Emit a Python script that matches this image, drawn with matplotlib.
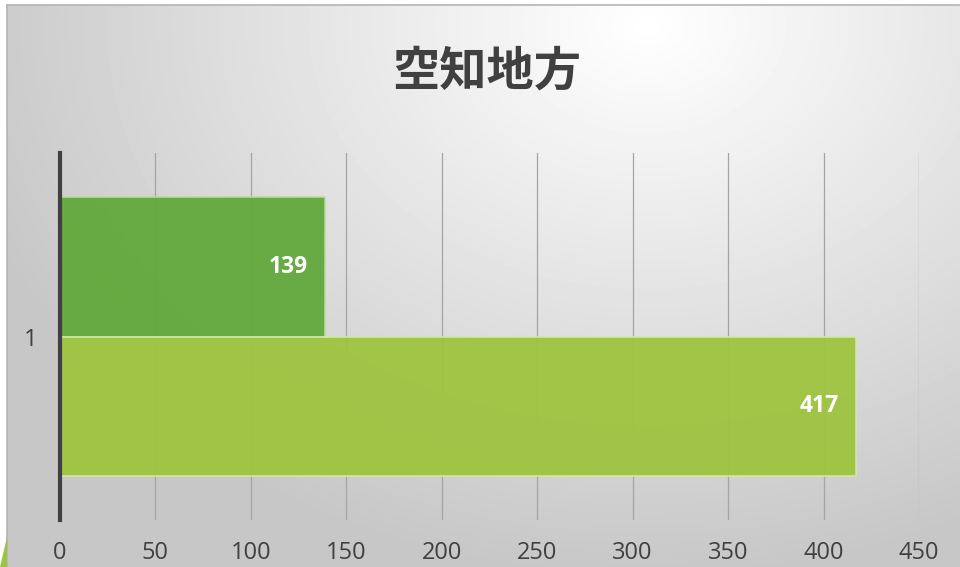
import numpy as np
from matplotlib import pyplot as plt
from matplotlib.patches import Polygon

plt.rcParams['font.family'] = ['Open Sans', 'Noto Sans CJK JP', 'DejaVu Sans']

title = "空知地方"
categories = ["1"]
upper_values = [139]
lower_values = [417]
x_ticks = [0, 50, 100, 150, 200, 250, 300, 350, 400, 450]

fig = plt.figure(figsize=(9.6, 5.67), dpi=100)
fig.patch.set_facecolor("white")

# background with a soft radial gradient
bg = fig.add_axes([7 / 960, 0, 1 - 7 / 960, 1 - 5 / 567], zorder=0)
h, w = 562, 953
yy, xx = np.mgrid[0:h, 0:w]
dist = np.sqrt(((xx - 640) / 900) ** 2 + ((yy - 20) / 700) ** 2)
shade = np.clip(1.0 - 0.28 * dist, 0.78, 1.0)
bg.imshow(shade, cmap="gray", vmin=0, vmax=1, aspect="auto", interpolation="bilinear")
bg.set_xticks([])
bg.set_yticks([])
for side in ["left", "top"]:
    bg.spines[side].set_color("#b4b4b4")
    bg.spines[side].set_linewidth(1.2)
for side in ["right", "bottom"]:
    bg.spines[side].set_visible(False)

# small green corner decoration
fig.patches.append(Polygon([[0, 0], [7 / 960, 0], [7 / 960, 30 / 567]],
                           closed=True, transform=fig.transFigure,
                           facecolor="#9dc43f", edgecolor="none", zorder=1))

ax = fig.add_axes([60 / 960, 1 - 520 / 567, 859 / 960, 367 / 567], zorder=2)
ax.patch.set_alpha(0)

y = np.arange(len(categories))
bar_h = 0.379
ax.barh(y + bar_h / 2, upper_values, height=bar_h, color="#62a83b",
        edgecolor="#b9dc9a", linewidth=1.2, alpha=0.95, zorder=3)
ax.barh(y - bar_h / 2, lower_values, height=bar_h, color="#9dc43f",
        edgecolor="#d3e9a5", linewidth=1.2, alpha=0.95, zorder=3)

for i in range(len(categories)):
    ax.text(upper_values[i] - 9, y[i] + bar_h / 2, str(upper_values[i]),
            ha="right", va="center", color="white", fontsize=16.5, fontweight="bold", zorder=4)
    ax.text(lower_values[i] - 9, y[i] - bar_h / 2, str(lower_values[i]),
            ha="right", va="center", color="white", fontsize=16.5, fontweight="bold", zorder=4)

ax.set_xlim(0, 450)
ax.set_ylim(-0.5, 0.5)
ax.set_xticks(x_ticks)
ax.set_yticks(y)
ax.set_yticklabels(categories)
ax.tick_params(axis="both", length=0, labelsize=17, colors="#404040")
ax.tick_params(axis="x", pad=15)
ax.tick_params(axis="y", pad=16)
ax.grid(axis="x", color="#a4a4a4", linewidth=0.9, zorder=1)
ax.set_axisbelow(True)
for side in ["top", "right", "bottom"]:
    ax.spines[side].set_visible(False)
ax.spines["left"].set_color("#404040")
ax.spines["left"].set_linewidth(3)
ax.spines["left"].set_zorder(5)

fig.text(487 / 960, 1 - 72 / 567, title, ha="center", va="center",
         fontsize=34, fontweight="bold", color="#404040",
         family=["Noto Sans CJK JP", "DejaVu Sans"])

fig.savefig("out.png", dpi=100)
